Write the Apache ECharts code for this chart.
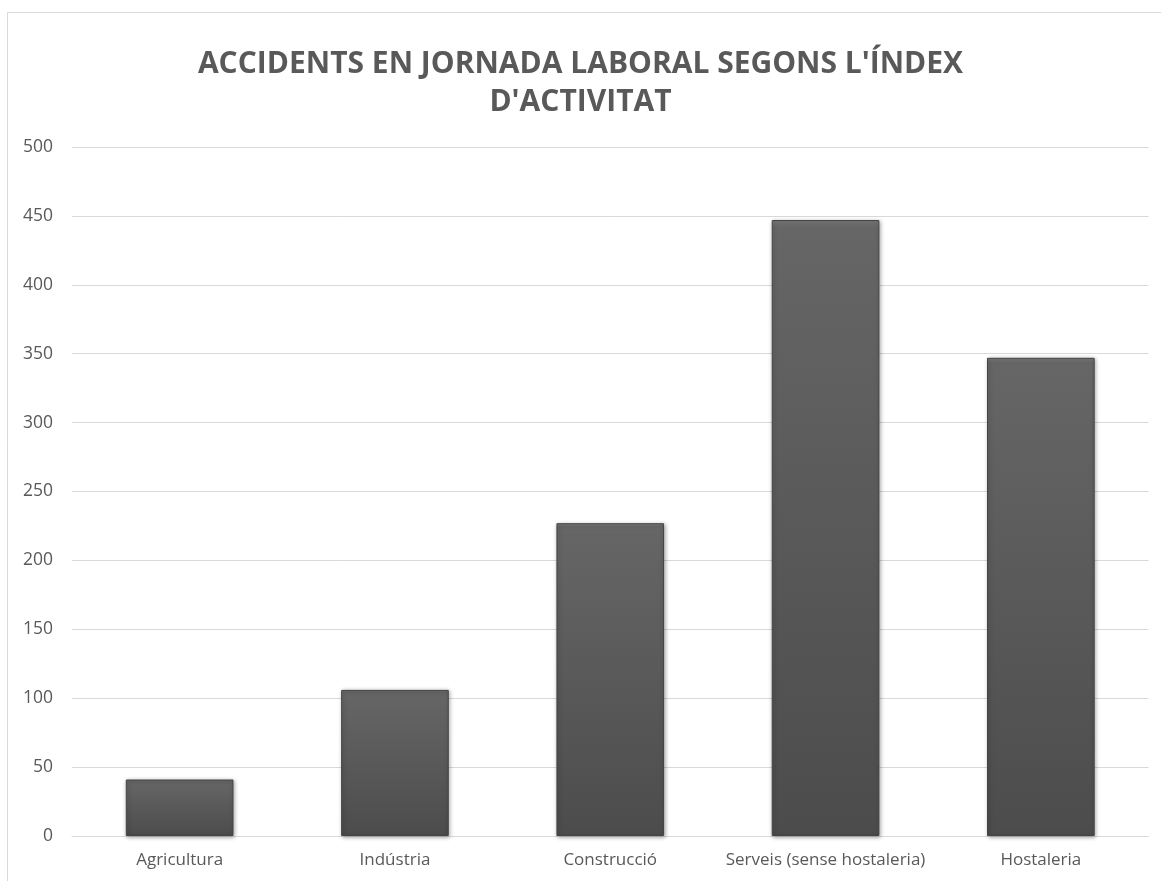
<!DOCTYPE html>
<html>
<head>
<meta charset="utf-8">
<title>Accidents en jornada laboral</title>
<script src="https://cdn.jsdelivr.net/npm/echarts@6/dist/echarts.min.js"></script>
<style>
  html, body { margin: 0; padding: 0; background: #fff; }
  #chart { width: 1161px; height: 881px; }
</style>
</head>
<body>
<div id="chart"></div>
<script>
// dades llegides del gràfic
const categories = ['Agricultura', 'Indústria', 'Construcció', 'Serveis (sense hostaleria)', 'Hostaleria'];
const accidents = [41, 106, 227, 447, 347];
const yTicks = [0, 50, 100, 150, 200, 250, 300, 350, 400, 450, 500];

const textColor = '#595959';
const gridColor = '#d9d9d9';

const chart = echarts.init(document.getElementById('chart'));

chart.setOption({
    animation: false,
    backgroundColor: '#fff',
    textStyle: { fontFamily: 'Open Sans' },
    graphic: [{
        type: 'rect',
        silent: true,
        shape: { x: 7.5, y: 12.5, width: 1200, height: 1000 },
        style: { fill: 'none', stroke: gridColor, lineWidth: 1 }
    }],
    title: {
        text: "ACCIDENTS EN JORNADA LABORAL SEGONS L'ÍNDEX\nD'ACTIVITAT",
        left: 'center',
        top: 45,
        padding: [0, 0, 0, 20],
        textStyle: {
            fontFamily: 'Open Sans',
            fontWeight: 'bold',
            fontSize: 30,
            lineHeight: 38,
            color: textColor
        }
    },
    grid: {
        left: 72,
        right: 12.5,
        top: 147,
        bottom: 45
    },
    xAxis: {
        type: 'category',
        data: categories,
        axisLine: { lineStyle: { color: gridColor, width: 1 } },
        axisTick: { show: false },
        axisLabel: {
            color: textColor,
            fontSize: 17,
            margin: 16,
            interval: 0
        }
    },
    yAxis: {
        type: 'value',
        min: yTicks[0],
        max: yTicks[yTicks.length - 1],
        interval: yTicks[1] - yTicks[0],
        axisLine: { show: false },
        axisTick: { show: false },
        splitLine: { lineStyle: { color: gridColor, width: 1 } },
        axisLabel: {
            color: textColor,
            fontSize: 17.5,
            margin: 19
        }
    },
    series: [{
        name: 'Accidents',
        type: 'bar',
        data: accidents,
        barWidth: '50%',
        itemStyle: {
            color: new echarts.graphic.LinearGradient(0, 0, 0, 1, [
                { offset: 0, color: '#7a7a7a' },
                { offset: 0.012, color: '#666666' },
                { offset: 1, color: '#4c4c4c' }
            ]),
            borderColor: '#444444',
            borderWidth: 1,
            shadowColor: 'rgba(0, 0, 0, 0.35)',
            shadowBlur: 4,
            shadowOffsetX: 1,
            shadowOffsetY: 1
        }
    }]
});
</script>
</body>
</html>
